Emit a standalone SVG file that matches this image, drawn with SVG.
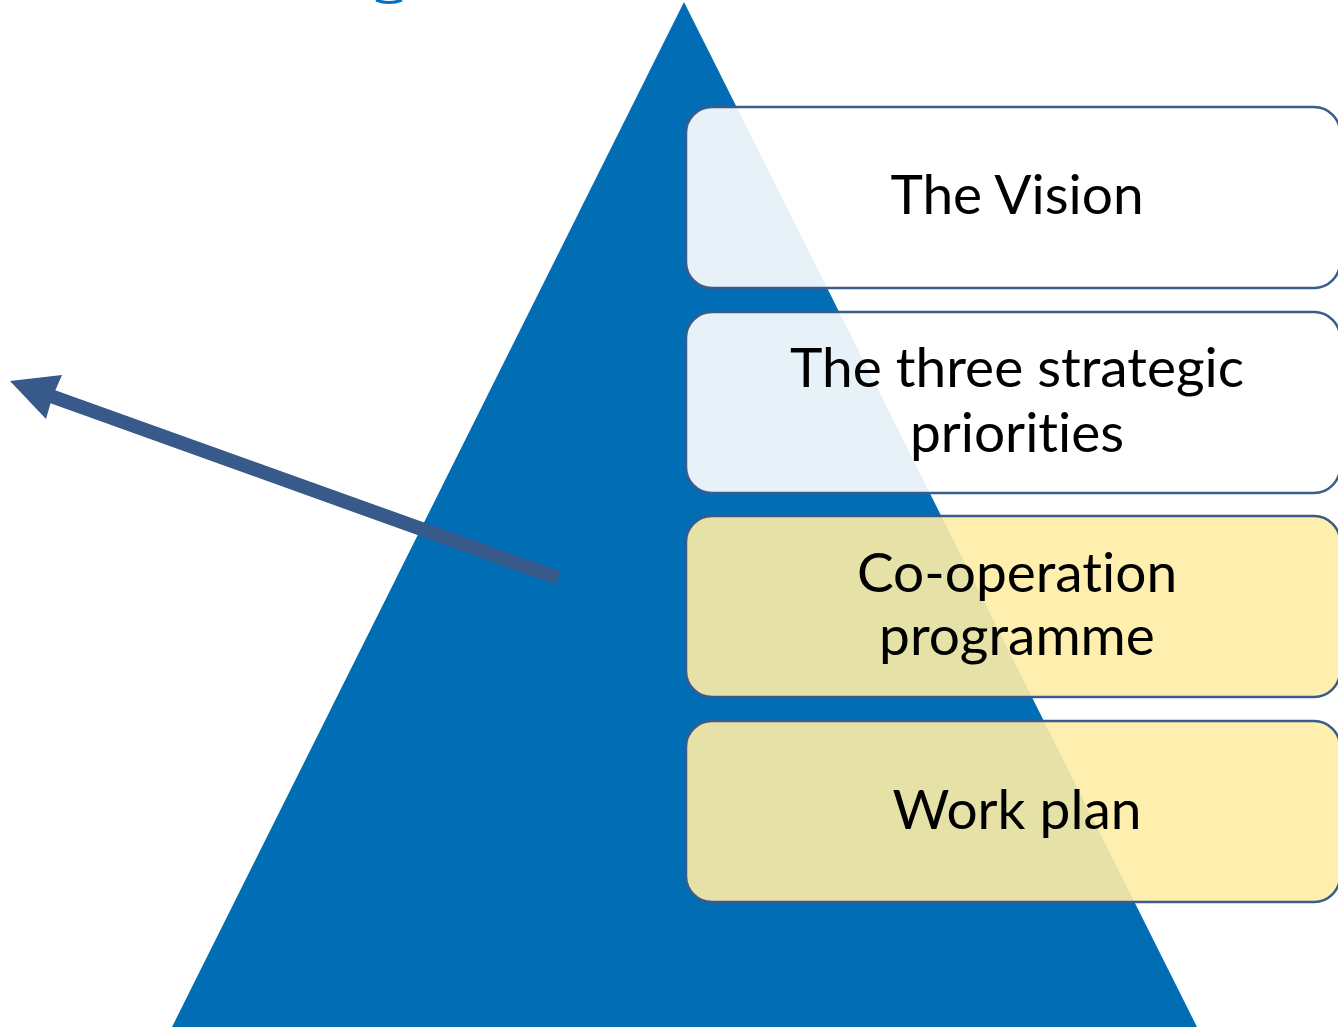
<svg xmlns="http://www.w3.org/2000/svg" width="1338" height="1027" viewBox="0 0 1338 1027">
<style>
.box{stroke:#3B5B8C;stroke-width:2.5}
.w{fill:#FFFFFF;fill-opacity:0.9}
.y{fill:#FEEDA5;fill-opacity:0.9}
.t{font-family:Lato,"Open Sans",sans-serif;font-size:55px;fill:#000;text-anchor:middle;font-variant-ligatures:none;font-feature-settings:"liga" 0}
</style>
<rect width="1338" height="1027" fill="#FFFFFF"/>
<path d="M376,0 Q389,5 402,0" fill="none" stroke="#0070C0" stroke-width="3"/>
<polygon id="pyramid" points="684,2 1197,1027 172,1027" fill="#006DB5"/>
<g id="connectors">
<line x1="558" y1="578" x2="48" y2="395" stroke="#385A8A" stroke-width="14"/>
<path d="M10,381 L62,375 L52,398 L46,419 Z" fill="#385A8A"/>
</g>
<g id="node-vision">
<rect class="box w" x="686" y="107" width="654" height="181" rx="26"/>
<text class="t" x="1017" y="214">The Vision</text>
</g>
<g id="node-priorities">
<rect class="box w" x="686" y="312" width="654" height="181" rx="26"/>
<text class="t" x="1017" y="387">The three strategic</text>
<text class="t" x="1017" y="452">priorities</text>
</g>
<g id="node-cooperation">
<rect class="box y" x="686" y="516" width="654" height="181" rx="26"/>
<text class="t" x="1017" y="592">Co-operation</text>
<text class="t" x="1017" y="655">programme</text>
</g>
<g id="node-workplan">
<rect class="box y" x="686" y="721" width="654" height="181" rx="26"/>
<text class="t" x="1017" y="829">Work plan</text>
</g>
</svg>
